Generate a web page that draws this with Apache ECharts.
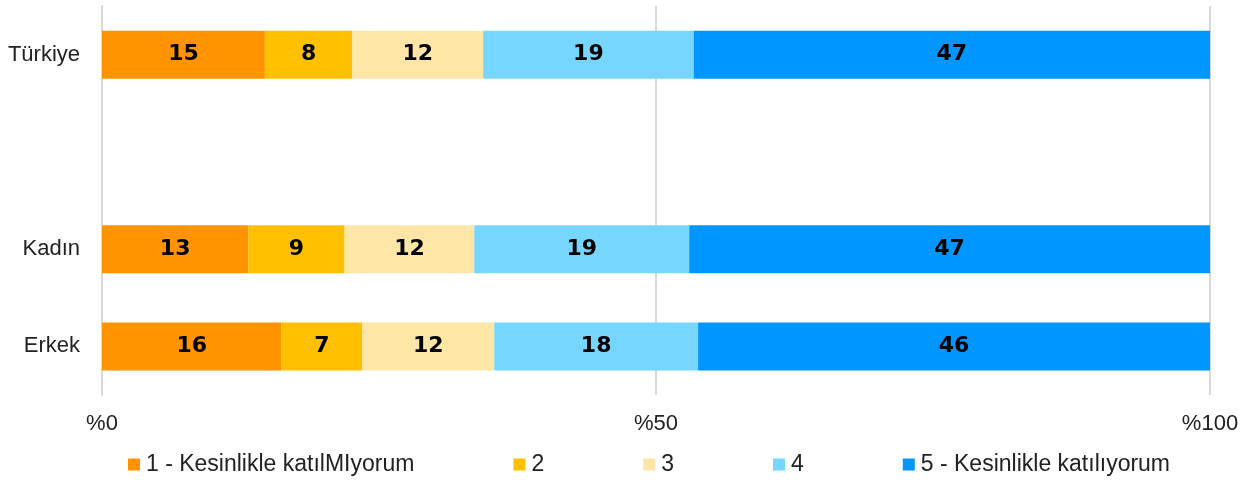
<!DOCTYPE html>
<html>
<head>
<meta charset="utf-8">
<style>html,body{margin:0;padding:0;background:#fff}#c{width:1255px;height:480px}</style>
<script src="https://cdn.jsdelivr.net/npm/echarts@6/dist/echarts.min.js"></script>
</head>
<body>
<div id="c"></div>
<script>
const categories = ['Türkiye', '', 'Kadın', 'Erkek'];
const seriesNames = ['1 - Kesinlikle katılMIyorum', '2', '3', '4', '5 - Kesinlikle katılıyorum'];
const colors = ['#FF9300', '#FFC000', '#FFE6A6', '#76D6FF', '#0096FF'];
const s1 = [14.7, null, 13.2, 16.2];
const s2 = [7.9, null, 8.7, 7.3];
const s3 = [11.8, null, 11.7, 11.9];
const s4 = [19.0, null, 19.4, 18.4];
const s5 = [46.6, null, 47.0, 46.2];
const xTicks = [0, 50, 100];

const allSeries = [s1, s2, s3, s4, s5];
const chart = echarts.init(document.getElementById('c'), null, {renderer: 'canvas'});
const fontFam = '"Liberation Sans", Arial, sans-serif';
chart.setOption({
  animation: false,
  color: colors,
  grid: {left: 102, right: 45, top: 6, bottom: 85, containLabel: false},
  legend: {
    top: 448, left: 123,
    itemWidth: 12, itemHeight: 12, itemGap: 99,
    icon: 'rect',
    textStyle: {fontSize: 23, color: '#222', fontFamily: fontFam, padding: [0, 0, 0, 1]},
    data: seriesNames
  },
  xAxis: {
    type: 'value', min: 0, max: 100, interval: 50,
    axisLine: {show: false}, axisTick: {show: false},
    splitLine: {lineStyle: {color: '#d9d9d9', width: 2}},
    axisLabel: {margin: 18, fontSize: 22, color: '#222', fontFamily: fontFam,
      formatter: v => xTicks.includes(v) ? '%' + v : ''}
  },
  yAxis: {
    type: 'category', data: categories, inverse: true,
    axisLine: {show: true, lineStyle: {color: '#d9d9d9', width: 2}},
    axisTick: {show: false},
    axisLabel: {margin: 22, fontSize: 22, color: '#222', fontFamily: fontFam}
  },
  series: allSeries.map((d, i) => ({
    name: seriesNames[i], type: 'bar', stack: 'total', data: d,
    barWidth: 48,
    label: {show: true, position: 'inside', color: '#000', fontSize: 22, fontWeight: 'bold',
      fontFamily: '"DejaVu Sans", sans-serif',
      formatter: p => p.value == null ? '' : Math.round(p.value)}
  }))
});
</script>
</body>
</html>
